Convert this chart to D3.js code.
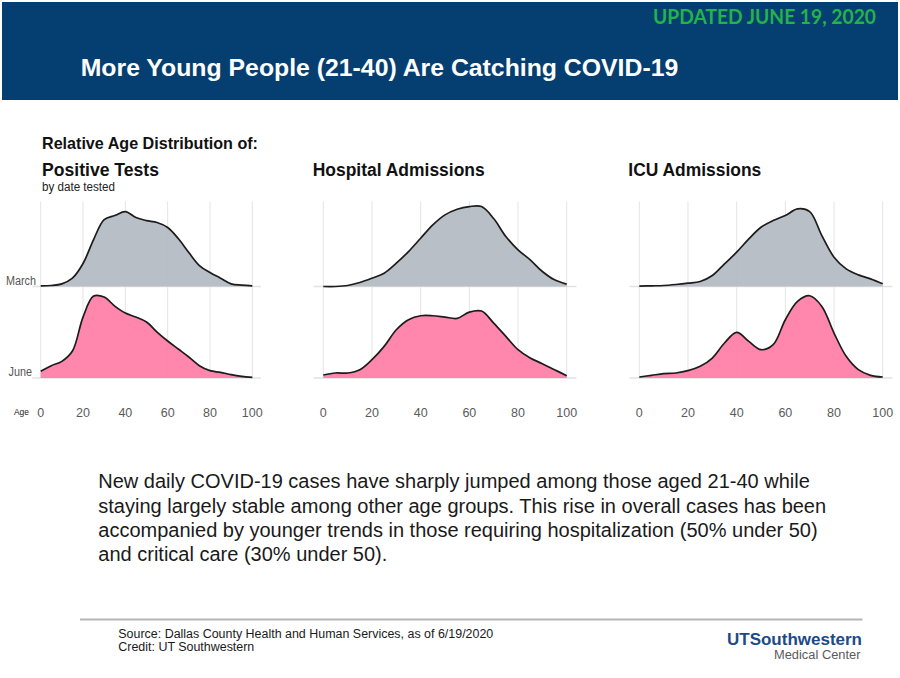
<!DOCTYPE html>
<html>
<head>
<meta charset="utf-8">
<script src="https://cdn.jsdelivr.net/npm/d3@7/dist/d3.min.js"></script>
<style>
  html, body { margin: 0; padding: 0; background: #ffffff; }
  svg { display: block; }
  text { font-family: "Liberation Sans", Arial, Helvetica, sans-serif; }
</style>
</head>
<body>
<svg id="chart" width="900" height="678"></svg>
<script>
// ---------------- DATA ----------------
const ages = [0, 5, 10, 15, 20, 25, 30, 35, 40, 45, 50, 55, 60, 65, 70, 75, 80, 85, 90, 95, 100];
const ageTicks = [0, 20, 40, 60, 80, 100];
const rowLabels = ["March", "June"];
const panelTitles = ["Positive Tests", "Hospital Admissions", "ICU Admissions"];

// relative density (% of cases per year of age)
const positiveMarch = [0.02, 0.03, 0.08, 0.25, 0.69, 1.41, 2.01, 2.13, 2.25, 2.07, 1.98, 1.92, 1.77, 1.44, 1.02, 0.63, 0.42, 0.25, 0.08, 0.04, 0.02];
const positiveJune  = [0.20, 0.37, 0.50, 0.81, 1.83, 2.46, 2.43, 2.16, 1.95, 1.83, 1.68, 1.38, 1.11, 0.87, 0.63, 0.37, 0.22, 0.17, 0.10, 0.05, 0.02];
const hospitalMarch = [0.00, 0.00, 0.03, 0.12, 0.25, 0.40, 0.70, 1.05, 1.45, 1.85, 2.15, 2.32, 2.40, 2.40, 2.04, 1.50, 1.10, 0.80, 0.45, 0.20, 0.07];
const hospitalJune  = [0.09, 0.15, 0.15, 0.25, 0.55, 0.95, 1.45, 1.75, 1.87, 1.87, 1.83, 1.79, 1.98, 2.01, 1.65, 1.25, 0.85, 0.60, 0.43, 0.25, 0.07];
const icuMarch      = [0.01, 0.02, 0.03, 0.06, 0.10, 0.15, 0.33, 0.68, 1.03, 1.43, 1.78, 1.98, 2.13, 2.33, 2.25, 1.53, 0.88, 0.53, 0.35, 0.23, 0.08];
const icuJune       = [0.03, 0.08, 0.13, 0.15, 0.22, 0.35, 0.60, 1.05, 1.37, 1.10, 0.85, 1.00, 1.75, 2.30, 2.47, 2.15, 1.35, 0.65, 0.25, 0.08, 0.03];

const seriesByPanel = [
  [positiveMarch, positiveJune],
  [hospitalMarch, hospitalJune],
  [icuMarch, icuJune]
];

const bodyLines = [
  "New daily COVID-19 cases have sharply jumped among those aged 21-40 while",
  "staying largely stable among other age groups. This rise in overall cases has been",
  "accompanied by younger trends in those requiring hospitalization (50% under 50)",
  "and critical care (30% under 50)."
];

// ---------------- LAYOUT ----------------
const svg = d3.select("#chart");
const panelRanges = [[40.7, 252.3], [323.3, 566.7], [639.3, 882.7]];
const rowBase = d3.scaleOrdinal().domain(rowLabels).range([286.5, 378]);
const gridTop = 201.5;
const yH = d3.scaleLinear().domain([0, 1]).range([0, 33.3]);
const fills = { "March": "#b4bcc3", "June": "#ff80a8" };

// ---------------- HEADER ----------------
svg.append("rect").attr("x", 2).attr("y", 2).attr("width", 896).attr("height", 98).attr("fill", "#053f71");
svg.append("text")
  .attr("x", 876).attr("y", 24).attr("text-anchor", "end")
  .attr("fill", "#22b34b").attr("font-weight", "bold")
  .style("font-family", "'Liberation Sans Narrow', Lato, 'Liberation Sans', sans-serif")
  .attr("font-size", 20)
  .attr("textLength", 223).attr("lengthAdjust", "spacingAndGlyphs")
  .text("UPDATED JUNE 19, 2020");
svg.append("text")
  .attr("x", 80.7).attr("y", 75.7)
  .attr("fill", "#ffffff").attr("font-weight", "bold").attr("font-size", 24.8)
  .text("More Young People (21-40) Are Catching COVID-19");

// ---------------- PANEL HEADINGS ----------------
svg.append("text").attr("x", 42).attr("y", 148.5).attr("font-weight", "bold").attr("font-size", 16.5)
  .attr("fill", "#111").attr("textLength", 216).attr("lengthAdjust", "spacingAndGlyphs")
  .text("Relative Age Distribution of:");
svg.append("text").attr("x", 42).attr("y", 191).attr("font-size", 12)
  .attr("fill", "#222").attr("textLength", 73).attr("lengthAdjust", "spacingAndGlyphs")
  .text("by date tested");

const titleX = [42, 312.7, 628.3];
const titleW = [117, 172, 133];

// ---------------- PANELS ----------------
panelTitles.forEach((title, p) => {
  const x = d3.scaleLinear().domain([0, 100]).range(panelRanges[p]);
  const g = svg.append("g");

  g.append("text").attr("x", titleX[p]).attr("y", 175.5)
    .attr("font-weight", "bold").attr("font-size", 17.5).attr("fill", "#111")
    .attr("textLength", titleW[p]).attr("lengthAdjust", "spacingAndGlyphs")
    .text(title);

  // vertical grid lines
  g.selectAll("line.grid").data(ageTicks).join("line")
    .attr("class", "grid")
    .attr("x1", d => x(d)).attr("x2", d => x(d))
    .attr("y1", gridTop).attr("y2", rowBase("June"))
    .attr("stroke", "#e4e4e4").attr("stroke-width", 1);

  // baselines per row
  g.selectAll("line.base").data(rowLabels).join("line")
    .attr("class", "base")
    .attr("x1", x(-4)).attr("x2", x(104))
    .attr("y1", d => rowBase(d)).attr("y2", d => rowBase(d))
    .attr("stroke", "#e2e2e2").attr("stroke-width", 1.6);

  rowLabels.forEach((row, r) => {
    const vals = seriesByPanel[p][r];
    const pts = ages.map((a, i) => ({ age: a, v: vals[i] }));
    const base = rowBase(row);
    const curve = d3.curveCatmullRom.alpha(0.5);
    const area = d3.area().curve(curve)
      .x(d => x(d.age)).y0(base).y1(d => base - yH(d.v));
    const line = d3.line().curve(curve)
      .x(d => x(d.age)).y(d => base - yH(d.v));
    g.append("path").datum(pts).attr("d", area)
      .attr("fill", fills[row]).attr("fill-opacity", 0.95);
    g.append("path").datum(pts).attr("d", line)
      .attr("fill", "none").attr("stroke", "#1c1c1c").attr("stroke-width", 1.7)
      .attr("stroke-linejoin", "round");
  });

  // x axis tick labels
  g.selectAll("text.tick").data(ageTicks).join("text")
    .attr("class", "tick")
    .attr("x", d => x(d)).attr("y", 416.5)
    .attr("text-anchor", "middle").attr("font-size", 12.5).attr("fill", "#5a5a5a")
    .text(d => d);
});

// row labels (first panel)
const rowLabelRight = { "March": 36, "June": 32 };
const rowLabelW = { "March": 30, "June": 23.5 };
svg.selectAll("text.row").data(rowLabels).join("text")
  .attr("class", "row")
  .attr("x", d => rowLabelRight[d]).attr("y", d => rowBase(d) - 2)
  .attr("text-anchor", "end").attr("font-size", 12).attr("fill", "#555")
  .attr("textLength", d => rowLabelW[d]).attr("lengthAdjust", "spacingAndGlyphs")
  .text(d => d);
svg.append("text").attr("x", 14).attr("y", 415).attr("font-size", 9).attr("fill", "#222")
  .attr("textLength", 15).attr("lengthAdjust", "spacingAndGlyphs")
  .text("Age");

// ---------------- BODY TEXT ----------------
svg.selectAll("text.body").data(bodyLines).join("text")
  .attr("class", "body")
  .attr("x", 98.3).attr("y", (d, i) => 488.3 + i * 24.3)
  .attr("font-size", 20).attr("fill", "#1a1a1a")
  .text(d => d);

// ---------------- FOOTER ----------------
svg.append("line").attr("x1", 80).attr("x2", 862.5).attr("y1", 619.5).attr("y2", 619.5)
  .attr("stroke", "#b5b5b5").attr("stroke-width", 2);
svg.append("text").attr("x", 118.3).attr("y", 638).attr("font-size", 12.3).attr("fill", "#1a1a1a")
  .attr("textLength", 375).attr("lengthAdjust", "spacingAndGlyphs")
  .text("Source: Dallas County Health and Human Services, as of 6/19/2020");
svg.append("text").attr("x", 118.3).attr("y", 651.3).attr("font-size", 12.3).attr("fill", "#1a1a1a")
  .attr("textLength", 136).attr("lengthAdjust", "spacingAndGlyphs")
  .text("Credit: UT Southwestern");
svg.append("text").attr("x", 862).attr("y", 645).attr("text-anchor", "end")
  .attr("font-size", 16).attr("font-weight", "bold").attr("fill", "#1c4a89")
  .attr("textLength", 135).attr("lengthAdjust", "spacingAndGlyphs")
  .text("UTSouthwestern");
svg.append("text").attr("x", 860.5).attr("y", 659).attr("text-anchor", "end")
  .attr("font-size", 12.5).attr("fill", "#5a5a5a")
  .attr("textLength", 86.5).attr("lengthAdjust", "spacingAndGlyphs")
  .text("Medical Center");
</script>
</body>
</html>
